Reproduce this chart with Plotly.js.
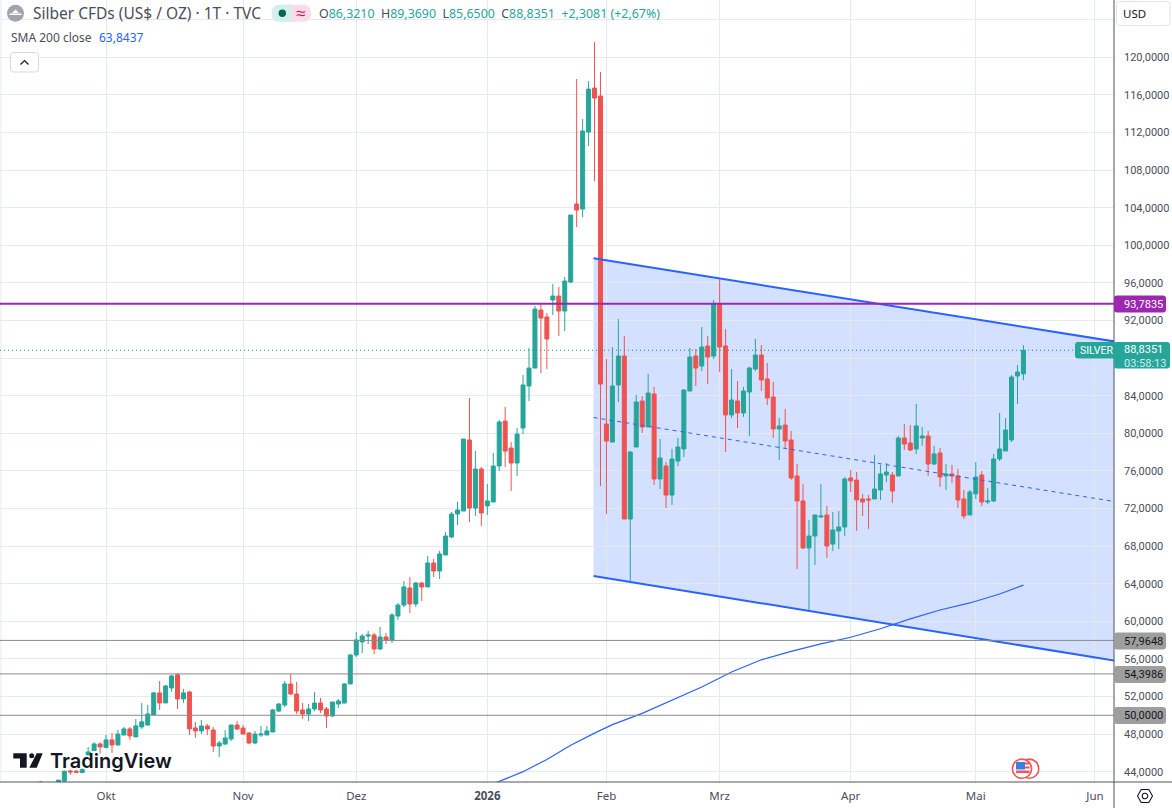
<!DOCTYPE html>
<html><head><meta charset="utf-8">
<script src="https://cdn.plot.ly/plotly-3.0.1.min.js"></script>
<style>html,body{margin:0;padding:0;background:#fff;overflow:hidden}</style>
</head><body><div id="chart" style="width:1172px;height:808px"></div>
<script>
const openPrices = [42.9,42.4,42.5,42.6,43.0,44.08,44.05,43.9,45.78,46.24,46.95,46.56,47.38,46.84,47.9,48.55,47.7,48.76,48.97,50.04,52.38,51.31,52.9,54.3,51.74,52.48,48.65,
48.33,48.86,48.43,46.73,46.94,47.48,48.96,48.64,48.11,47.05,47.9,47.9,48.22,50.45,51.09,53.33,52.26,50.56,50.13,50.67,51.3,50.67,49.92,51.2,51.3,53.33,
56.41,57.8,58.43,58.54,57.05,58.33,58.01,60.56,61.73,63.54,61.84,64.07,63.65,66.2,65.35,67.05,68.97,71.41,71.73,79.29,72.05,76.2,72.27,72.69,76.52,
81.3,78.43,76.84,80.56,85.03,86.94,93.11,92.37,94.18,94.6,93.01,96.09,
104.39,103.86,112.05,116.73,115.88,
80.99,79.07,85.14,88.22,70.88,78.54,83.43,80.67,84.18,75.14,76.52,73.43,77.05,78.33,84.5,88.22,87.16,89.28,88.22,
93.75,89.29,81.95,83.44,82.16,84.39,86.84,88.33,85.78,83.86,80.46,80.88,79.29,75.46,72.8,67.8,69.07,71.1,71.31,68.22,69.61,
70.03,75.25,75.03,73.01,73.01,73.01,73.97,75.56,75.56,75.46,79.5,78.97,78.33,79.5,79.71,76.73,77.9,
75.46,75.67,75.46,73.01,71.31,73.55,75.56,72.69,72.8,77.27,78.12,79.29,86.1,86.32];
const highPrices = [43.0,42.7,42.7,43.1,44.1,44.2,44.2,44.35,46.63,47.13,47.13,47.9,48.1,48.44,48.76,48.76,49.6,51.3,51.1,52.5,53.65,53.23,54.3,54.5,52.8,52.6,49.3,
49.5,49.07,48.75,47.26,48.43,48.96,49.39,48.96,48.22,48.33,48.86,48.86,50.67,51.3,53.64,54.39,53.54,51.3,51.2,52.47,51.84,50.88,51.41,51.73,53.43,56.52,
58.86,58.65,58.97,58.76,59.4,58.76,60.88,61.95,64.29,64.71,64.18,64.18,66.95,66.63,67.48,69.5,71.63,72.69,79.39,83.75,78.12,76.41,74.61,77.9,81.41,
82.8,79.07,80.56,86.2,89.07,93.54,93.86,92.8,95.88,95.56,96.63,103.22,
117.69,113.43,117.47,121.62,118.43,
87.9,89.18,92.16,90.35,78.11,84.07,83.97,86.31,84.92,79.39,76.94,78.33,79.5,84.71,89.07,88.97,91.31,90.35,94.18,
96.4,91.1,86.84,85.56,84.93,87.05,90.03,89.39,87.48,85.46,81.63,82.59,80.25,76.73,74.61,70.78,71.31,74.61,72.27,71.63,71.73,
75.35,76.1,75.88,73.54,73.44,77.69,76.63,76.84,75.88,79.71,80.99,80.88,83.12,80.67,80.25,78.65,78.44,
76.73,76.63,76.2,73.97,73.97,76.95,75.99,74.18,77.8,82.16,81.63,86.2,87.27,89.37];
const lowPrices = [42.4,42.3,42.3,42.4,42.9,43.65,43.83,43.9,45.78,46.24,45.92,46.56,46.0,46.77,47.9,47.38,47.7,48.55,48.87,50.04,50.57,51.31,52.5,50.67,51.3,47.9,47.6,
48.0,47.9,46.09,45.56,46.84,47.26,48.43,48.0,46.94,46.94,47.69,47.9,48.22,50.35,50.88,52.16,50.13,49.6,49.39,50.45,50.24,48.64,49.82,50.77,51.3,53.33,
56.2,56.63,57.58,56.52,56.95,57.58,57.69,60.14,61.52,60.88,61.52,62.16,63.65,64.71,64.5,67.05,68.86,70.24,71.73,70.56,71.2,70.14,71.31,72.69,75.99,
76.41,73.86,75.45,79.92,83.43,86.94,86.41,86.84,92.58,90.35,90.88,96.0,
101.94,103.0,110.56,106.84,74.39,
71.41,79.07,83.33,70.88,64.18,78.54,80.03,80.67,74.5,74.07,72.05,72.37,76.52,77.48,84.5,85.03,86.63,85.24,87.9,
86.52,78.01,81.63,80.56,81.74,79.71,86.63,84.5,83.01,79.5,77.16,78.33,75.03,65.56,67.69,61.1,65.99,71.0,66.73,67.48,67.69,
69.07,73.76,69.61,71.2,69.82,73.01,72.9,74.82,72.59,75.46,78.22,78.12,77.8,78.65,75.46,76.63,74.29,
73.97,74.71,72.05,70.88,71.31,73.01,72.27,72.48,72.69,77.05,78.12,79.07,83.12,85.65];
const closePrices = [42.7,42.6,42.6,43.1,44.05,43.97,43.93,44.22,46.1,46.95,46.63,47.38,46.84,48.0,48.55,47.8,48.87,49.3,50.14,52.38,51.31,53.12,54.18,51.74,52.38,48.55,48.33,
48.86,48.54,46.73,47.05,47.58,48.96,48.54,48.0,47.05,48.0,48.0,48.33,50.56,51.2,53.33,52.26,50.45,50.13,50.67,51.3,50.56,49.92,51.41,51.52,53.33,56.41,
58.01,58.43,58.54,57.05,58.33,58.01,60.67,61.73,63.65,61.84,64.07,63.65,66.2,65.35,67.16,69.07,71.41,71.84,79.39,72.05,76.2,71.52,72.8,76.52,81.2,
78.11,76.84,79.92,85.14,86.94,93.22,92.26,90.03,94.6,93.01,96.2,103.22,
103.75,112.16,116.62,115.67,85.24,
79.18,85.03,88.22,70.88,78.01,83.33,80.67,84.28,75.14,77.37,73.43,77.26,78.54,84.6,88.11,86.94,89.18,88.11,93.75,
89.18,81.95,83.54,82.16,84.5,86.95,88.33,85.67,83.76,80.46,80.78,79.18,75.25,72.8,67.8,69.07,71.31,71.2,68.01,69.71,70.03,
75.14,74.93,72.91,72.69,72.9,74.07,75.67,75.88,73.86,79.5,78.86,78.22,80.78,79.71,76.73,77.8,75.35,
75.67,75.46,72.9,71.2,73.76,75.35,72.69,72.8,77.27,78.33,80.35,85.99,86.52,88.83];

const smaIndex = [76,81,85,89,93,96,101,106,111,116,121,126,131,136,141,146,151,156,161,165];
const smaValues = [42.7,44.0,45.3,46.8,48.1,49.0,50.2,51.6,53.0,54.6,55.9,56.8,57.6,58.3,59.2,60.25,61.2,61.95,62.9,63.84];

const priceTicks = [44,48,52,56,60,64,68,72,76,80,84,88,92,96,100,104,108,112,116,120,124];
const priceTickLabels = ["44,0000","48,0000","52,0000","56,0000","60,0000","64,0000","68,0000","72,0000","76,0000","80,0000","84,0000","","92,0000","96,0000","100,0000","104,0000","108,0000","112,0000","116,0000","120,0000",""];
const monthTicks = [11,34,53,75,95,114,136,157,177];
const monthLabels = ["Okt","Nov","Dez","<b>2026</b>","Feb","Mrz","Apr","Mai","Jun"];

const lastPrice = 88.8351, resistance = 93.7835;
const supportLevels = [57.9648,54.3986,50.0];
const channelStartIndex = 92.83, channelEndIndex = 180.3, midEndIndex = 179.7;
const channelTop = [98.62,89.77], channelBottom = [64.82,55.81], channelMid = [81.68,72.8];

const W=1114,H=782;
const GREEN='#26a69a',RED='#ef5350',BLUE='#2962ff',PURPLE='#9c27b0',GREY='#9e9e9e',TXT='#4a4e59';
const px=x=>(x/W).toFixed(5), py=y=>(1-y/H).toFixed(5);
const P=(pts,close=true)=>'M'+pts.map(p=>px(p[0])+','+py(p[1])).join(' L')+(close?' Z':'');
function rr(x0,y0,x1,y1,r){
 return `M${px(x0+r)},${py(y0)} L${px(x1-r)},${py(y0)} Q${px(x1)},${py(y0)} ${px(x1)},${py(y0+r)} L${px(x1)},${py(y1-r)} Q${px(x1)},${py(y1)} ${px(x1-r)},${py(y1)} L${px(x0+r)},${py(y1)} Q${px(x0)},${py(y1)} ${px(x0)},${py(y1-r)} L${px(x0)},${py(y0+r)} Q${px(x0)},${py(y0)} ${px(x0+r)},${py(y0)} Z`;
}
const paperShape=(path,fill,line,lw)=>({type:'path',xref:'paper',yref:'paper',path,fillcolor:fill||'rgba(0,0,0,0)',line:{color:line||'rgba(0,0,0,0)',width:lw||0},layer:'above'});
const circle=(cx,cy,r,fill,line,lw)=>({type:'circle',xref:'paper',yref:'paper',x0:px(cx-r),x1:px(cx+r),y0:py(cy+r),y1:py(cy-r),fillcolor:fill||'rgba(0,0,0,0)',line:{color:line||'rgba(0,0,0,0)',width:lw||0},layer:'above'});
const rect=(x0,y0,x1,y1,fill)=>({type:'rect',xref:'paper',yref:'paper',x0:px(x0),x1:px(x1),y0:py(y1),y1:py(y0),fillcolor:fill,line:{width:0},layer:'above'});
const label=(text,x,y,size,color,anchor,extra)=>Object.assign({text,xref:'paper',yref:'paper',x:x/W,y:1-y/H,xanchor:anchor||'left',yanchor:'middle',showarrow:false,borderpad:0,font:{family:'Noto Sans, sans-serif',size,color}},extra||{});
const priceLabel=(text,y,color)=>label(text,1123,y,11,color,'left',{font:{family:'Roboto, sans-serif',size:11,color}});

const candleIndex = closePrices.map((_,i)=>i);
const traces=[
 {type:'scatter',mode:'lines',x:smaIndex,y:smaValues,line:{color:BLUE,width:1.2},hoverinfo:'skip'},
 {type:'candlestick',x:candleIndex,open:openPrices,high:highPrices,low:lowPrices,close:closePrices,
  increasing:{line:{color:GREEN,width:1},fillcolor:GREEN},decreasing:{line:{color:RED,width:1},fillcolor:RED},whiskerwidth:0,hoverinfo:'skip'}
];
const dataLine=(x0,y0,x1,y1,color,width,dash,layer)=>({type:'line',xref:'x',yref:'y',x0,y0,x1,y1,line:{color,width,dash:dash||'solid'},layer:layer||'above'});
const hLevel=(v,color,width,dash)=>({type:'line',xref:'paper',yref:'y',x0:0,x1:1,y0:v,y1:v,line:{color,width,dash:dash||'solid'},layer:'above'});
const shapes=[
 {type:'path',xref:'x',yref:'y',layer:'below',fillcolor:'rgba(41,98,255,0.2)',line:{width:0},
  path:`M${channelStartIndex},${channelTop[0]} L${channelEndIndex},${channelTop[1]} L${channelEndIndex},${channelBottom[1]} L${channelStartIndex},${channelBottom[0]} Z`},
 dataLine(channelStartIndex,channelTop[0],channelEndIndex,channelTop[1],BLUE,2),
 dataLine(channelStartIndex,channelBottom[0],channelEndIndex,channelBottom[1],BLUE,2),
 dataLine(channelStartIndex,channelMid[0],midEndIndex,channelMid[1],BLUE,1,'4px,4px'),
 hLevel(resistance,PURPLE,2),
 ...supportLevels.map(v=>hLevel(v,'#8a8a8a',1)),
 hLevel(lastPrice,'#1f8f84',1,'1px,3px'),
 // frame
 {type:'line',xref:'paper',yref:'paper',x0:px(1),x1:px(1),y0:0,y1:1,line:{color:'#e3ebf1',width:1},layer:'below'},
 {type:'line',xref:'paper',yref:'paper',x0:1,x1:1,y0:py(808),y1:1,line:{color:'#50535e',width:1},layer:'above'},
 {type:'line',xref:'paper',yref:'paper',x0:0,x1:px(1172),y0:0,y1:0,line:{color:'#50535e',width:1},layer:'above'},
 // price badges
 paperShape(rr(1114,295.5,1166,312.5,3),PURPLE),
 paperShape(rr(1114,632.5,1166,649.5,3),GREY),
 paperShape(rr(1114,666,1166,683,3),GREY),
 paperShape(rr(1114,707,1166,724,3),GREY),
 paperShape(rr(1114,342,1170,368.5,3),GREEN),
 paperShape(rr(1075,342,1117,358.5,3),GREEN),
 // header icon, status pill
 circle(15.5,13.3,8.5,'#a3a3ad'),
 rect(9.5,13.5,21.5,15,'#ffffff'),
 paperShape(P([[12,13],[15.5,9.5],[19,13]]),'#ffffff'),
 paperShape(rr(271.5,4.7,300,21.7,8),'#d5f0ec'),
 paperShape(rr(283,4.7,311,21.7,8),'#fcdde7'),
 rect(282,4.7,291.8,21.7,'#d5f0ec'),
 circle(282.3,13.3,3.7,'#056656'),
 // collapse button
 paperShape(rr(10.5,52.5,38.5,72,3),'#ffffff','#d6d8de',1),
 paperShape(P([[20.5,64.5],[24.5,60.5],[28.5,64.5]],false),null,'#131722',1.2),
 // TradingView logo
 paperShape(P([[13.3,753.3],[26.7,753.3],[26.7,767.7],[20,767.7],[20,758.4],[13.3,758.4]]),'#131722'),
 circle(31.7,755.8,2.5,'#131722'),
 paperShape(P([[36.7,753.3],[42.7,753.3],[36.7,767.7],[29.3,767.7]]),'#131722'),
 // USD box
 paperShape(rr(1116.5,1.5,1170,25.5,3),'#ffffff','#e0e3eb',1),
 // event flag
 circle(1029.2,768.7,9.6,'#ffffff','#f0535a',1.6),
 circle(1022,768.7,9.6,'#ffffff','#f0535a',1.6),
 rect(1025,762.5,1029.5,764.5,'#f0535a'),
 rect(1025,766.5,1029.5,768.5,'#f0535a'),
 rect(1016,770.5,1029.5,773,'#f0535a'),
 rect(1016,762,1025,769.5,'#3d7fe0'),
 // settings icon
 paperShape(P([[1137.5,796],[1141.2,789.5],[1148.8,789.5],[1152.5,796],[1148.8,802.5],[1141.2,802.5]]),null,'#131722',1.1),
 circle(1145,796,2.8,null,'#131722',1.1)
];
const teal=s=>`<span style="color:${GREEN}">${s}</span>`;
const annotations=[
 label('Silber CFDs (US$ / OZ) · 1T · TVC',32,13.5,15.5,TXT),
 label('≈',300,12.5,17,'#c2185b','center'),
 label('O'+teal('86,3210')+'  H'+teal('89,3690')+'  L'+teal('85,6500')+'  C'+teal('88,8351')+'  '+teal('+2,3081 (+2,67%)'),318,13.5,12.4,TXT),
 label('SMA 200 close',10,37.5,12,TXT),
 label('63,8437',98,37.5,12,BLUE),
 label('USD',1122,13.5,11.5,'#131722'),
 label('TradingView',49,760.5,20,'#131722','left',{font:{family:'Inter, sans-serif',size:20,color:'#131722',weight:600}}),
 priceLabel('93,7835',304,'#ffffff'),
 priceLabel('57,9648',641,'#131722'),
 priceLabel('54,3986',674.5,'#131722'),
 priceLabel('50,0000',715.5,'#131722'),
 priceLabel('88,8351',349,'#ffffff'),
 priceLabel('03:58:13',363,'rgba(255,255,255,0.8)'),
 label('SILVER',1079,350,10.5,'#ffffff','left',{font:{family:'Roboto, sans-serif',size:10.5,color:'#ffffff'}})
];
const layout={
 width:1172,height:808,autosize:false,showlegend:false,paper_bgcolor:'#fff',plot_bgcolor:'#fff',
 separators:',.',boxgap:0.33,boxgroupgap:0,
 margin:{l:0,r:58,t:0,b:26,pad:0},
 font:{family:'Noto Sans, sans-serif',size:11.5,color:TXT},
 xaxis:{type:'linear',range:[-6.8,180.2],rangeslider:{visible:false},tickmode:'array',tickvals:monthTicks,ticktext:monthLabels,
  showgrid:true,gridcolor:'#e3ebf1',gridwidth:1,zeroline:false,showline:false,ticks:'',ticklabelstandoff:5,tickfont:{size:11.5,color:TXT},fixedrange:true},
 yaxis:{type:'linear',side:'right',range:[42.9,126.1],tickmode:'array',tickvals:priceTicks,ticktext:priceTickLabels,
  showgrid:true,gridcolor:'#e3ebf1',gridwidth:1,zeroline:false,showline:false,ticks:'',ticklabelstandoff:9,tickfont:{family:'Roboto, sans-serif',size:11,color:TXT},fixedrange:true},
 shapes,annotations
};
Plotly.newPlot('chart',traces,layout,{displayModeBar:false,staticPlot:true});
</script></body></html>
